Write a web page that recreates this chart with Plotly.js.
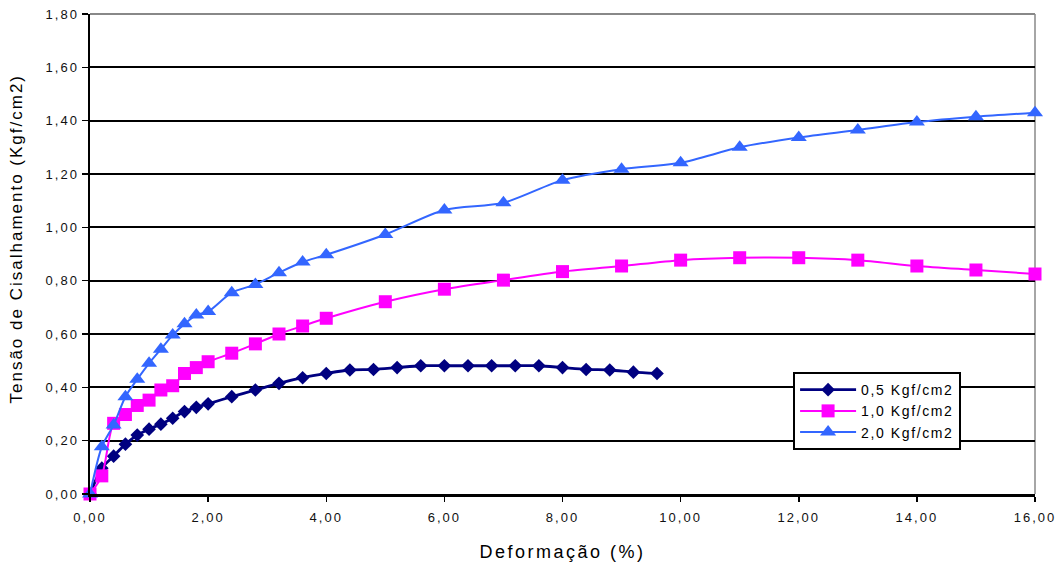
<!DOCTYPE html>
<html>
<head>
<meta charset="utf-8">
<script src="https://cdn.plot.ly/plotly-3.0.1.min.js"></script>
<style>
  html, body { margin: 0; padding: 0; background: #fff; }
  #chart { width: 1058px; height: 562px; }
  .ytick text, .xtick text { letter-spacing: 2px; }
  .legendtext { letter-spacing: 1.6px; }
  .g-xtitle text { letter-spacing: 2.5px; }
  .annotation-text { letter-spacing: 2px; }
</style>
</head>
<body>
<div id="chart"></div>
<script>
// Deformação (%) values for each test
const def05 = [0, 0.2, 0.4, 0.6, 0.8, 1.0, 1.2, 1.4, 1.6, 1.8, 2.0, 2.4, 2.8, 3.2, 3.6, 4.0, 4.4, 4.8, 5.2, 5.6, 6.0, 6.4, 6.8, 7.2, 7.6, 8.0, 8.4, 8.8, 9.2, 9.6];
const tens05 = [0, 0.097, 0.142, 0.187, 0.221, 0.243, 0.262, 0.284, 0.309, 0.325, 0.338, 0.365, 0.39, 0.415, 0.436, 0.452, 0.465, 0.467, 0.474, 0.481, 0.481, 0.481, 0.481, 0.481, 0.481, 0.474, 0.467, 0.465, 0.457, 0.452];

const def10 = [0, 0.2, 0.4, 0.6, 0.8, 1.0, 1.2, 1.4, 1.6, 1.8, 2.0, 2.4, 2.8, 3.2, 3.6, 4.0, 5, 6, 7, 8, 9, 10, 11, 12, 13, 14, 15, 16];
const tens10 = [0, 0.068, 0.265, 0.298, 0.332, 0.352, 0.39, 0.406, 0.452, 0.474, 0.496, 0.528, 0.563, 0.60, 0.63, 0.659, 0.721, 0.768, 0.802, 0.834, 0.855, 0.877, 0.886, 0.886, 0.877, 0.855, 0.84, 0.825];

const def20 = [0, 0.2, 0.4, 0.6, 0.8, 1.0, 1.2, 1.4, 1.6, 1.8, 2.0, 2.4, 2.8, 3.2, 3.6, 4.0, 5, 6, 7, 8, 9, 10, 11, 12, 13, 14, 15, 16];
const tens20 = [0, 0.177, 0.259, 0.365, 0.43, 0.49, 0.543, 0.596, 0.638, 0.671, 0.684, 0.755, 0.786, 0.83, 0.87, 0.897, 0.973, 1.065, 1.092, 1.177, 1.218, 1.242, 1.30, 1.337, 1.365, 1.395, 1.415, 1.43];

const seriesNames = ['0,5 Kgf/cm2', '1,0 Kgf/cm2', '2,0 Kgf/cm2'];
const xTitle = 'Deformação (%)';
const yTitle = 'Tensão de Cisalhamento (Kgf/cm2)';

const FONT = 'Liberation Sans, Arial, sans-serif';

const traces = [
  {
    x: def05, y: tens05, name: seriesNames[0], type: 'scatter', mode: 'lines+markers',
    legendgroup: 'a', cliponaxis: false,
    line: { color: '#000080', width: 2.8, shape: 'spline', smoothing: 0.8 },
    marker: { symbol: 'diamond', size: 10.5, color: '#000080' }
  },
  {
    x: def10, y: tens10, name: seriesNames[1], type: 'scatter', mode: 'lines+markers',
    legendgroup: 'b', cliponaxis: false,
    line: { color: '#FF00FF', width: 2, shape: 'spline', smoothing: 0.8 },
    marker: { symbol: 'square', size: 13, color: '#FF00FF' }
  },
  {
    x: def20, y: tens20, name: seriesNames[2], type: 'scatter', mode: 'lines+markers',
    legendgroup: 'c', cliponaxis: false,
    line: { color: '#3366FF', width: 2, shape: 'spline', smoothing: 0.8 },
    marker: { symbol: 'triangle-up', size: 14, color: '#3366FF' }
  }
];

const layout = {
  width: 1058, height: 562,
  margin: { l: 90, r: 23, t: 14, b: 68 },
  paper_bgcolor: '#fff', plot_bgcolor: '#fff',
  separators: ',.',
  font: { family: FONT, color: '#000', size: 13 },
  showlegend: true,
  legend: {
    x: 0.744, xanchor: 'left', y: 0.254, yanchor: 'top',
    bgcolor: '#fff', bordercolor: '#000', borderwidth: 2,
    font: { family: FONT, size: 14, color: '#000' },
    tracegroupgap: 0, itemwidth: 56
  },
  xaxis: {
    range: [0, 16], dtick: 2, tick0: 0, tickformat: '.2f',
    ticks: 'outside', ticklen: 5, tickwidth: 1.5, tickcolor: '#000',
    ticklabelstandoff: 5,
    showline: true, linecolor: '#000', linewidth: 2.5,
    showgrid: false, zeroline: false,
    tickfont: { family: FONT, size: 13, color: '#111' },
    title: { text: xTitle, font: { family: FONT, size: 18, color: '#000' }, standoff: 23 }
  },
  yaxis: {
    range: [0, 1.8], dtick: 0.2, tick0: 0, tickformat: '.2f',
    ticks: 'outside', ticklen: 6, tickwidth: 1.5, tickcolor: '#000',
    showline: true, linecolor: '#000', linewidth: 2.5,
    showgrid: true, gridcolor: '#000', gridwidth: 2,
    zeroline: false,
    tickfont: { family: FONT, size: 13, color: '#111' }
  },
  shapes: [
    { type: 'line', xref: 'paper', yref: 'paper', x0: 0, x1: 1, y0: 1, y1: 1,
      line: { color: '#888', width: 2 }, layer: 'between' },
    { type: 'line', xref: 'paper', yref: 'paper', x0: 1, x1: 1, y0: 0, y1: 1,
      line: { color: '#888', width: 1.5 }, layer: 'between' }
  ],
  annotations: [
    { text: yTitle, textangle: -90, xref: 'paper', yref: 'paper',
      x: -0.078, xanchor: 'center', y: 0.185, yanchor: 'bottom',
      showarrow: false, font: { family: FONT, size: 17, color: '#000' } }
  ]
};

Plotly.newPlot('chart', traces, layout, { staticPlot: true, displayModeBar: false });
</script>
</body>
</html>
